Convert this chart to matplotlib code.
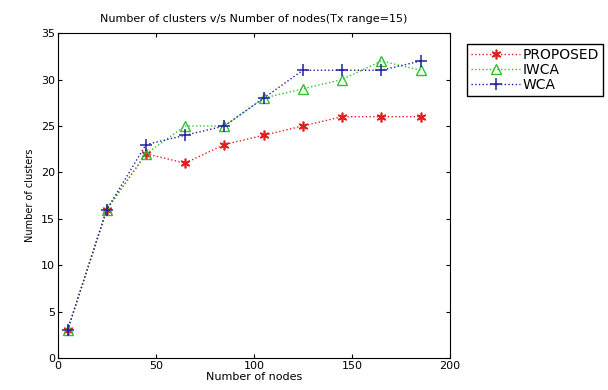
import matplotlib
matplotlib.use("Agg")
import matplotlib.pyplot as plt

nodes    = [5, 25, 45, 65, 85, 105, 125, 145, 165, 185]
proposed = [3, 16, 22, 21, 23, 24, 25, 26, 26, 26]
iwca     = [3, 16, 22, 25, 25, 28, 29, 30, 32, 31]
wca      = [3, 16, 23, 24, 25, 28, 31, 31, 31, 32]

plt.rcParams["font.family"] = "DejaVu Sans"
fig = plt.figure(figsize=(6.08, 3.9), dpi=100)
ax = fig.add_axes([0.095, 0.082, 0.645, 0.833])

ax.plot(nodes, proposed, ":", color="#e02020", marker=(6, 2, 0), ms=7, mew=1.2, lw=1, label="PROPOSED")
ax.plot(nodes, iwca, ":", color="#30c030", marker="^", ms=7, mfc="none", lw=1, label="IWCA")
ax.plot(nodes, wca, ":", color="#2020a0", marker="+", ms=8, mew=1.1, lw=1, label="WCA")

ax.set_xlim(0, 200)
ax.set_ylim(0, 35)
ax.set_xticks([0, 50, 100, 150, 200])
ax.set_yticks(range(0, 36, 5))
ax.tick_params(direction="in", top=True, right=True, labelsize=8, length=3, pad=2)
ax.set_xlabel("Number of nodes", fontsize=8, labelpad=1)
ax.set_ylabel("Number of clusters", fontsize=7, labelpad=4)
ax.set_title("Number of clusters v/s Number of nodes(Tx range=15)", fontsize=8, pad=8)

fig.legend(loc="upper left", bbox_to_anchor=(0.757, 0.905), fontsize=10,
           fancybox=False, edgecolor="black", framealpha=1,
           handlelength=3.5, borderpad=0.3, labelspacing=0.05, handletextpad=0.2)

fig.savefig("out.png", dpi=100)
